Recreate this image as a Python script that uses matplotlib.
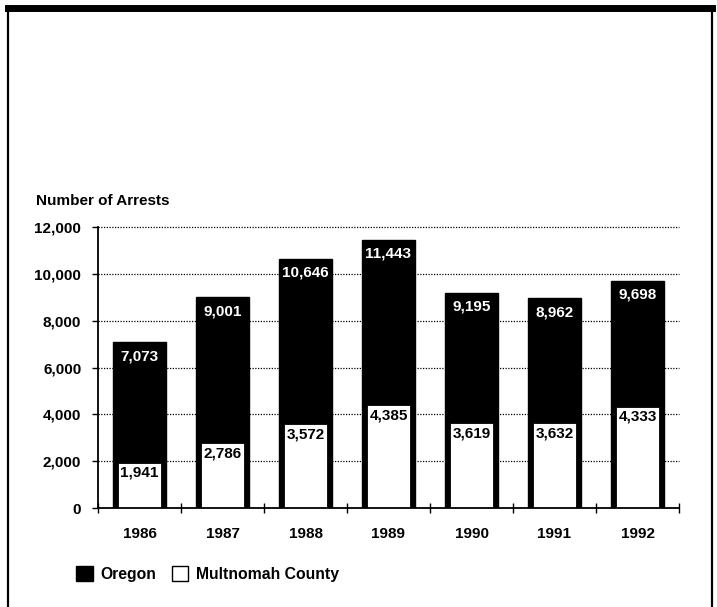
import matplotlib
matplotlib.use("Agg")
import matplotlib.pyplot as plt
from matplotlib.patches import Patch
from matplotlib.lines import Line2D
import numpy as np

years = ["1986", "1987", "1988", "1989", "1990", "1991", "1992"]
oregon = [7073, 9001, 10646, 11443, 9195, 8962, 9698]
multnomah = [1941, 2786, 3572, 4385, 3619, 3632, 4333]
yticks = [0, 2000, 4000, 6000, 8000, 10000, 12000]

plt.rcParams['font.family'] = ['Liberation Sans', 'DejaVu Sans']
plt.rcParams['font.weight'] = 'bold'

W, H = 717, 607
fig = plt.figure(figsize=(W / 100, H / 100), dpi=100)
ax = fig.add_axes([98 / W, (H - 508) / H, (679 - 98) / W, (508 - 227) / H])

x = np.arange(len(years))
ax.bar(x, oregon, width=0.65, color='black', edgecolor='black', zorder=2)
ax.bar(x, multnomah, width=0.52, color='white', edgecolor='black', linewidth=0.6, zorder=3)

for xi, v in zip(x, oregon):
    ax.annotate(f"{v:,}", (xi, v), xytext=(0, -10), textcoords='offset points',
                ha='center', va='center', color='white', fontsize=11,
                fontweight='bold', zorder=4)
for xi, v in zip(x, multnomah):
    ax.annotate(f"{v:,}", (xi, v), xytext=(0, -7.5), textcoords='offset points',
                ha='center', va='center', color='black', fontsize=11,
                fontweight='bold', zorder=4)

ax.set_xlim(-0.5, len(years) - 0.5)
ax.set_ylim(0, 12000)
ax.set_yticks(yticks)
ax.set_yticklabels([f"{t:,}" for t in yticks], fontsize=11, fontweight='bold')
ax.set_xticks(x)
ax.set_xticklabels(years, fontsize=11, fontweight='bold')
ax.tick_params(axis='x', length=0, pad=14)
ax.set_xticks(np.arange(-0.5, len(years), 1.0), minor=True)
ax.tick_params(axis='x', which='minor', length=7, direction='inout', width=1)
ax.tick_params(axis='y', length=4, width=1, pad=8)

for t in yticks[1:]:
    ax.axhline(t, color='black', linestyle=(0, (1, 1.2)), linewidth=0.9, zorder=1, clip_on=False)

for s in ['top', 'right']:
    ax.spines[s].set_visible(False)
ax.spines['left'].set_linewidth(1.3)
ax.spines['bottom'].set_linewidth(1.3)
ax.spines['bottom'].set_zorder(5)

fig.text(36 / W, 1 - 201 / H, "Number of Arrests", fontsize=11, fontweight='bold',
         ha='left', va='center')

handles = [Patch(facecolor='black', edgecolor='black', label='Oregon'),
           Patch(facecolor='white', edgecolor='black', label='Multnomah County')]
fig.legend(handles=handles, loc='center left', bbox_to_anchor=(62 / W, 1 - 574 / H),
           ncol=2, frameon=False, handlelength=1.05, handleheight=1.05,
           handletextpad=0.5, columnspacing=1.0, prop={'weight': 'bold', 'size': 11.3})

# page border
fig.add_artist(Line2D([8 / W, 712 / W], [1 - 8 / H, 1 - 8 / H], color='black', linewidth=5))
fig.add_artist(Line2D([8 / W, 8 / W], [0, 1 - 8 / H], color='black', linewidth=1.6))
fig.add_artist(Line2D([712 / W, 712 / W], [0, 1 - 8 / H], color='black', linewidth=1.6))

fig.savefig("out.png", dpi=100)
